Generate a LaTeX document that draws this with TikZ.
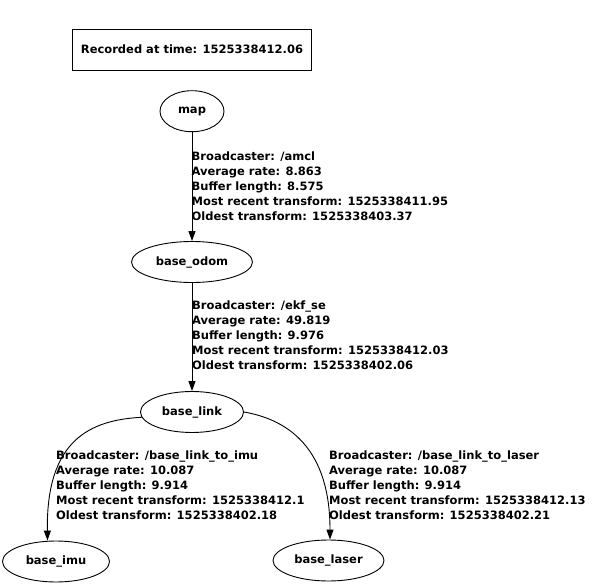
\documentclass[tikz,border=0pt]{standalone}
\usepackage{fontspec}
\setmainfont{DejaVu Sans}
\usetikzlibrary{shapes.geometric,arrows.meta}

\begin{document}
\begin{tikzpicture}[x=1pt, y=-1pt,
    every node/.style = {font=\bfseries\fontsize{11.5}{15}\selectfont},
    frame/.style = {shape=ellipse, draw, line width=0.9pt,
      inner sep=0pt, minimum height=41pt},
    info/.style = {align=left, inner sep=0pt, anchor=north west},
    tf/.style = {draw, line width=0.9pt,
      -{Triangle[length=10pt,width=7pt]}}]
    \useasboundingbox (0,0) rectangle (600,588);
    \node[draw, line width=0.9pt, minimum width=239pt, minimum height=41pt]
        (stamp) at (192,49.5) {Recorded at time: 1525338412.06};
    \node[frame, minimum width=64pt]  (map)   at (192,111.2) {map};
    \node[frame, minimum width=121pt] (odom)  at (192,262)   {base\_odom};
    \node[frame, minimum width=103pt] (link)  at (192,412)   {base\_link};
    \node[frame, minimum width=107pt] (imu)   at (56,561.5)  {base\_imu};
    \node[frame, minimum width=111pt] (laser) at (328.5,560.5) {base\_laser};
    % transforms
    \draw[tf] (map) -- (odom);
    \draw[tf] (odom) -- (link);
    \draw[tf] (link.186) .. controls (90,420) and (46,440) .. ([xshift=-8.5pt]imu.north);
    \draw[tf] (link.east) .. controls (290,420) and (330,450) .. ([xshift=1.5pt]laser.north);
    \node[info] (amcl) at (191.5,151.2) {Broadcaster: /amcl\\ Average rate: 8.863\\
        Buffer length: 8.575\\ Most recent transform: 1525338411.95\\
        Oldest transform: 1525338403.37};
    \node[info] (ekf) at (192,301) {Broadcaster: /ekf\_se\\ Average rate: 49.819\\
        Buffer length: 9.976\\ Most recent transform: 1525338412.03\\
        Oldest transform: 1525338402.06};
    \node[info] (toimu) at (56,451) {Broadcaster: /base\_link\_to\_imu\\ Average rate: 10.087\\
        Buffer length: 9.914\\ Most recent transform: 1525338412.1\\
        Oldest transform: 1525338402.18};
    \node[info] (tolaser) at (329,451) {Broadcaster: /base\_link\_to\_laser\\ Average rate: 10.087\\
        Buffer length: 9.914\\ Most recent transform: 1525338412.13\\
        Oldest transform: 1525338402.21};
\end{tikzpicture}
\end{document}
